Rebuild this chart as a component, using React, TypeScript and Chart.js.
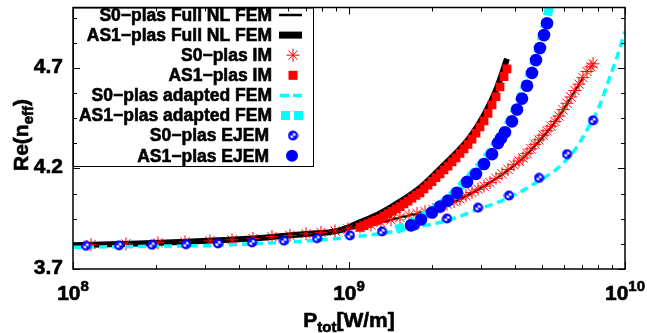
import React, { useEffect, useRef } from 'react';
import { Chart, registerables } from 'chart.js';
Chart.register(...registerables);

const FONT = '"Liberation Sans", Arial, sans-serif';

// S0-plas Full NL FEM (thin black line)
const s0NlP = [1e8, 1.609e8, 2.442e8, 3.706e8, 4.76e8, 6.644e8, 8.75e8, 1.191e9, 1.53e9, 1.966e9, 2.462e9, 3.243e9, 4.27e9, 5.67e9, 7.043e9];
const s0NlN = [3.818, 3.825, 3.834, 3.845, 3.854, 3.872, 3.887, 3.917, 3.956, 3.991, 4.04, 4.129, 4.252, 4.444, 4.651];

// AS1-plas Full NL FEM (thick black line)
const as1NlP = [1e8, 1.609e8, 2.442e8, 3.706e8, 4.76e8, 6.644e8, 9.278e8, 1.096e9, 1.295e9, 1.53e9, 1.808e9, 2.137e9, 2.422e9, 2.744e9, 3.11e9, 3.438e9, 3.736e9];
const as1NlN = [3.818, 3.826, 3.834, 3.845, 3.854, 3.872, 3.892, 3.932, 3.976, 4.035, 4.104, 4.198, 4.271, 4.355, 4.473, 4.601, 4.745];

// S0-plas IM (red stars)
const s0ImP = [1.162e8, 1.556e8, 2.032e8, 2.545e8, 3.135e8, 3.768e8, 4.489e8, 5.26e8, 6.113e8, 6.986e8,
  7.916e8, 8.898e8, 9.917e8, 1.096e9, 1.201e9, 1.306e9, 1.42e9, 1.53e9, 1.65e9, 1.764e9,
  1.886e9, 2.016e9, 2.137e9, 2.265e9, 2.402e9, 2.525e9, 2.654e9, 2.79e9, 2.934e9, 3.084e9,
  3.243e9, 3.409e9, 3.584e9, 3.768e9, 3.961e9, 4.13e9, 4.27e9, 4.415e9, 4.565e9, 4.72e9,
  4.88e9, 5.046e9, 5.217e9, 5.394e9, 5.577e9, 5.767e9, 5.962e9, 6.165e9, 6.372e9, 6.589e9,
  6.812e9, 7.043e9, 7.282e9, 7.53e9, 7.66e9];
const s0ImN = [3.821, 3.825, 3.83, 3.835, 3.84, 3.845, 3.852, 3.861, 3.867, 3.875,
  3.882, 3.889, 3.899, 3.909, 3.918, 3.931, 3.944, 3.956, 3.967, 3.976,
  3.985, 3.996, 4.009, 4.022, 4.035, 4.048, 4.064, 4.08, 4.097, 4.112,
  4.129, 4.151, 4.173, 4.195, 4.218, 4.237, 4.252, 4.275, 4.297, 4.32,
  4.342, 4.365, 4.387, 4.41, 4.433, 4.46, 4.492, 4.524, 4.555, 4.587,
  4.619, 4.651, 4.682, 4.705, 4.72];

// AS1-plas IM (red squares)
const as1ImP = [1.096e9, 1.1335e9, 1.172e9, 1.212e9, 1.253e9, 1.295e9, 1.339e9, 1.385e9, 1.431e9, 1.48e9,
  1.53e9, 1.582e9, 1.636e9, 1.691e9, 1.749e9, 1.808e9, 1.87e9, 1.933e9, 1.998e9, 2.066e9,
  2.137e9, 2.209e9, 2.284e9, 2.362e9, 2.442e9, 2.525e9, 2.611e9, 2.699e9, 2.79e9, 2.885e9,
  2.983e9, 3.084e9, 3.189e9, 3.297e9, 3.409e9, 3.525e9, 3.644e9, 3.736e9];
const as1ImN = [3.907, 3.916, 3.925, 3.934, 3.942, 3.951, 3.963, 3.975, 3.987, 3.999,
  4.01, 4.024, 4.038, 4.052, 4.066, 4.079, 4.098, 4.117, 4.135, 4.154,
  4.173, 4.193, 4.212, 4.232, 4.252, 4.275, 4.297, 4.319, 4.346, 4.376,
  4.406, 4.436, 4.474, 4.516, 4.557, 4.605, 4.657, 4.695];

// S0-plas adapted FEM (thin cyan dashed)
const s0AdP = [1e8, 1.932e8, 3.353e8, 5.814e8, 7.657e8, 1.008e9, 1.317e9, 1.734e9, 2.265e9, 2.934e9,
  3.799e9, 4.88e9, 5.718e9, 6.32e9, 6.871e9, 7.343e9, 7.917e9, 8.324e9, 8.825e9, 9.355e9, 1e10];
const s0AdN = [3.808, 3.813, 3.818, 3.833, 3.843, 3.858, 3.877, 3.907, 3.941, 3.996,
  4.055, 4.138, 4.202, 4.262, 4.331, 4.4, 4.483, 4.557, 4.656, 4.754, 4.88];

// AS1-plas adapted FEM (thick cyan dashed)
const as1AdP = [1.48e9, 1.677e9, 1.998e9, 2.284e9, 2.676e9, 3.084e9, 3.467e9, 3.895e9, 4.235e9, 4.603e9, 4.92e9, 5.173e9, 5.394e9];
const as1AdN = [3.895, 3.927, 3.991, 4.05, 4.143, 4.237, 4.34, 4.454, 4.567, 4.695, 4.813, 4.927, 5.04];

// S0-plas EJEM (small blue markers)
const s0EjP = [1.115e8, 1.468e8, 1.932e8, 2.567e8, 3.353e8, 4.452e8, 5.814e8, 7.657e8, 1.008e9, 1.317e9,
  1.734e9, 2.265e9, 2.934e9, 3.799e9, 4.88e9, 6.165e9, 7.657e9];
const s0EjN = [3.815, 3.818, 3.82, 3.823, 3.827, 3.832, 3.841, 3.853, 3.867, 3.887,
  3.917, 3.951, 4.005, 4.065, 4.153, 4.271, 4.439];

// AS1-plas EJEM (big blue circles)
const as1EjP = [1.677e9, 1.823e9, 1.998e9, 2.137e9, 2.284e9, 2.462e9, 2.676e9, 2.885e9, 3.084e9, 3.297e9,
  3.467e9, 3.554e9, 3.675e9, 3.895e9, 4.062e9, 4.235e9, 4.415e9, 4.603e9, 4.759e9, 4.92e9, 5.088e9, 5.217e9];
const as1EjN = [3.917, 3.946, 3.981, 4.01, 4.04, 4.079, 4.133, 4.173, 4.222, 4.271,
  4.326, 4.35, 4.38, 4.434, 4.493, 4.547, 4.611, 4.675, 4.739, 4.799, 4.863, 4.922];

const legendLabels = [
  'S0\u2212plas Full NL FEM',
  'AS1\u2212plas Full NL FEM',
  'S0\u2212plas IM',
  'AS1\u2212plas IM',
  'S0\u2212plas adapted FEM',
  'AS1\u2212plas adapted FEM',
  'S0\u2212plas EJEM',
  'AS1\u2212plas EJEM',
];

const yTickValues = [3.7, 4.2, 4.7];
const yTickLabels = ['3.7', '4.2', '4.7'];
const xTickValues = [1e8, 1e9, 1e10];
const xTickExps = ['8', '9', '10'];
const Y_MIN = 3.7;
const Y_MAX = 5.0;
const X_MIN = 1e8;
const X_MAX = 1e10;

const RED = '#ff0000';
const BLUE = '#0000ff';
const CYAN = '#00ffff';

const pts = (xs: number[], ys: number[]) => xs.map((x, i) => ({ x, y: ys[i] }));

function makeSmallMarker(): HTMLCanvasElement {
  const mk = document.createElement('canvas');
  mk.width = 11;
  mk.height = 11;
  const c = mk.getContext('2d')!;
  c.fillStyle = BLUE;
  c.beginPath();
  c.arc(5.5, 5.5, 5, 0, Math.PI * 2);
  c.fill();
  c.fillStyle = '#ffffff';
  c.beginPath();
  c.arc(5.5, 5.5, 2.8, 0, Math.PI * 2);
  c.fill();
  c.fillStyle = BLUE;
  c.beginPath();
  c.moveTo(5.5, 5.5);
  c.arc(5.5, 5.5, 2.9, 0, Math.PI / 2);
  c.closePath();
  c.fill();
  c.beginPath();
  c.moveTo(5.5, 5.5);
  c.arc(5.5, 5.5, 2.9, Math.PI, Math.PI * 1.5);
  c.closePath();
  c.fill();
  return mk;
}

function boldText(ctx: CanvasRenderingContext2D, t: string, x: number, y: number) {
  ctx.fillText(t, x, y);
  ctx.lineWidth = 0.6;
  ctx.strokeStyle = ctx.fillStyle as string;
  ctx.strokeText(t, x, y);
}

type Seg = [string, number, number];
function drawRich(ctx: CanvasRenderingContext2D, segs: Seg[], x: number, y: number, align: string) {
  let w = 0;
  const widths: number[] = [];
  segs.forEach((s) => {
    ctx.font = `bold ${s[1]}px ${FONT}`;
    const m = ctx.measureText(s[0]).width;
    widths.push(m);
    w += m;
  });
  let cx = align === 'center' ? x - w / 2 : align === 'right' ? x - w : x;
  ctx.textAlign = 'left';
  ctx.textBaseline = 'alphabetic';
  segs.forEach((s, i) => {
    ctx.font = `bold ${s[1]}px ${FONT}`;
    boldText(ctx, s[0], cx, y + s[2]);
    cx += widths[i];
  });
}

export default function App() {
  const ref = useRef<HTMLCanvasElement>(null);

  useEffect(() => {
    document.body.style.margin = '0';
    const canvas = ref.current!;
    const marker = makeSmallMarker();

    const framePlugin = {
      id: 'frame',
      afterDatasetsDraw(chart: any) {
        const ctx: CanvasRenderingContext2D = chart.ctx;
        const xs = chart.scales.x;
        const ys = chart.scales.y;
        const { left, right, top, bottom } = chart.chartArea;
        ctx.save();

        // legend box
        const lx1 = left, lx2 = 313, ly1 = top, ly2 = 166;
        ctx.fillStyle = '#ffffff';
        ctx.fillRect(lx1, ly1, lx2 - lx1, ly2 - ly1);
        ctx.strokeStyle = '#000000';
        ctx.lineWidth = 1;
        ctx.strokeRect(lx1 + 0.5, ly1 + 0.5, lx2 - lx1, ly2 - ly1);

        legendLabels.forEach((lab, i) => {
          const cy = 15 + i * 20.1;
          ctx.fillStyle = '#000000';
          ctx.font = `bold 17.5px ${FONT}`;
          ctx.textAlign = 'right';
          ctx.textBaseline = 'middle';
          boldText(ctx, lab, i >= 6 ? 269 : 272, cy + 1);
          if (i === 0) {
            ctx.strokeStyle = '#000';
            ctx.lineWidth = 2.5;
            ctx.beginPath();
            ctx.moveTo(279, cy);
            ctx.lineTo(302, cy);
            ctx.stroke();
          } else if (i === 1) {
            ctx.fillStyle = '#000';
            ctx.fillRect(279, cy - 3.5, 23, 7);
          } else if (i === 2) {
            ctx.strokeStyle = RED;
            ctx.lineWidth = 1;
            const r = 6.5;
            ctx.beginPath();
            for (let k = 0; k < 4; k++) {
              const a = (k * Math.PI) / 4;
              ctx.moveTo(293 - r * Math.cos(a), cy - r * Math.sin(a));
              ctx.lineTo(293 + r * Math.cos(a), cy + r * Math.sin(a));
            }
            ctx.stroke();
          } else if (i === 3) {
            ctx.fillStyle = RED;
            ctx.fillRect(293 - 4.5, cy - 4.5, 9, 9);
          } else if (i === 4) {
            ctx.strokeStyle = CYAN;
            ctx.lineWidth = 3.5;
            ctx.beginPath();
            ctx.moveTo(280, cy);
            ctx.lineTo(289, cy);
            ctx.moveTo(293, cy);
            ctx.lineTo(302, cy);
            ctx.stroke();
          } else if (i === 5) {
            ctx.fillStyle = CYAN;
            ctx.fillRect(281, cy - 4.5, 9, 9);
            ctx.fillRect(294, cy - 4.5, 9, 9);
          } else if (i === 6) {
            ctx.drawImage(marker, 293 - 5.5, cy - 5.5);
          } else if (i === 7) {
            ctx.fillStyle = BLUE;
            ctx.beginPath();
            ctx.arc(292, cy, 6, 0, Math.PI * 2);
            ctx.fill();
          }
        });

        // border
        ctx.strokeStyle = '#000000';
        ctx.lineWidth = 1.5;
        ctx.strokeRect(left, top, right - left, bottom - top);

        // ticks
        ctx.lineWidth = 1;
        ctx.beginPath();
        for (let d = 8; d <= 10; d++) {
          for (let k = 1; k <= 9; k++) {
            const v = k * Math.pow(10, d);
            if (v < X_MIN || v > X_MAX) continue;
            const px = Math.round(xs.getPixelForValue(v)) + 0.5;
            const len = k === 1 ? 7 : 4;
            ctx.moveTo(px, bottom);
            ctx.lineTo(px, bottom - len);
            ctx.moveTo(px, top);
            ctx.lineTo(px, top + len);
          }
        }
        for (let j = 0; j <= 10; j++) {
          const v = Y_MIN + j * 0.125;
          if (v > Y_MAX) continue;
          const py = Math.round(ys.getPixelForValue(v)) + 0.5;
          const len = j % 4 === 0 ? 7 : 4;
          ctx.moveTo(left, py);
          ctx.lineTo(left + len, py);
          ctx.moveTo(right, py);
          ctx.lineTo(right - len, py);
        }
        ctx.stroke();

        // y tick labels
        ctx.fillStyle = '#000';
        ctx.font = `bold 21px ${FONT}`;
        ctx.textAlign = 'right';
        ctx.textBaseline = 'middle';
        yTickValues.forEach((v, i) => {
          boldText(ctx, yTickLabels[i], 63, ys.getPixelForValue(v) - 1);
        });

        // x tick labels
        xTickValues.forEach((v, i) => {
          const px = xs.getPixelForValue(v);
          drawRich(ctx, [['10', 21, 0], [xTickExps[i], 15, -9]], px, 300, 'center');
        });

        // x title
        drawRich(ctx, [['P', 21, 0], ['tot', 15, 5], ['[W/m]', 21, 0]], 349, 327, 'center');

        // y title
        ctx.save();
        ctx.translate(20, 135);
        ctx.rotate(-Math.PI / 2);
        drawRich(ctx, [['Re(n', 21, 0], ['eff', 15, 5], [')', 21, 0]], 0, 8, 'center');
        ctx.restore();

        ctx.restore();
      },
    };

    const chart = new Chart(canvas, {
      type: 'line',
      data: {
        datasets: [
          {
            label: legendLabels[0],
            data: pts(s0NlP, s0NlN),
            borderColor: '#000',
            borderWidth: 2,
            pointRadius: 0,
            cubicInterpolationMode: 'monotone',
            order: 8,
          },
          {
            label: legendLabels[1],
            data: pts(as1NlP, as1NlN),
            borderColor: '#000',
            borderWidth: 6,
            pointRadius: 0,
            cubicInterpolationMode: 'monotone',
            order: 7,
          },
          {
            label: legendLabels[2],
            data: pts(s0ImP, s0ImN),
            showLine: false,
            pointStyle: 'star',
            pointRadius: 6.5,
            pointBorderColor: RED,
            pointBorderWidth: 1,
            borderColor: RED,
            order: 6,
          },
          {
            label: legendLabels[3],
            data: pts(as1ImP, as1ImN),
            showLine: false,
            pointStyle: 'rect',
            pointRadius: 6.2,
            pointBackgroundColor: RED,
            pointBorderWidth: 0,
            borderColor: RED,
            order: 5,
          },
          {
            label: legendLabels[4],
            data: pts(s0AdP, s0AdN),
            borderColor: CYAN,
            borderWidth: 3.5,
            borderDash: [8, 5],
            pointRadius: 0,
            cubicInterpolationMode: 'monotone',
            order: 4,
          },
          {
            label: legendLabels[5],
            data: pts(as1AdP, as1AdN),
            borderColor: CYAN,
            borderWidth: 9,
            borderDash: [9, 4],
            borderCapStyle: 'butt',
            pointRadius: 0,
            cubicInterpolationMode: 'monotone',
            order: 3,
          },
          {
            label: legendLabels[6],
            data: pts(s0EjP, s0EjN),
            showLine: false,
            pointStyle: marker,
            pointRadius: 5,
            order: 2,
          },
          {
            label: legendLabels[7],
            data: pts(as1EjP, as1EjN),
            showLine: false,
            pointStyle: 'circle',
            pointRadius: 6.3,
            pointBackgroundColor: BLUE,
            pointBorderWidth: 0,
            borderColor: BLUE,
            order: 1,
          },
        ] as any,
      },
      options: {
        animation: false,
        responsive: false,
        devicePixelRatio: 1,
        events: [],
        layout: { padding: { left: 73, right: 22, top: 5, bottom: 64 } },
        plugins: { legend: { display: false }, tooltip: { enabled: false } },
        scales: {
          x: { type: 'logarithmic', min: X_MIN, max: X_MAX, display: false },
          y: { type: 'linear', min: Y_MIN, max: Y_MAX, display: false },
        },
      } as any,
      plugins: [framePlugin],
    });
    return () => chart.destroy();
  }, []);

  return (
    <div style={{ width: 647, height: 333, background: '#fff' }}>
      <canvas ref={ref} width={647} height={333} style={{ display: 'block', width: 647, height: 333 }} />
    </div>
  );
}
